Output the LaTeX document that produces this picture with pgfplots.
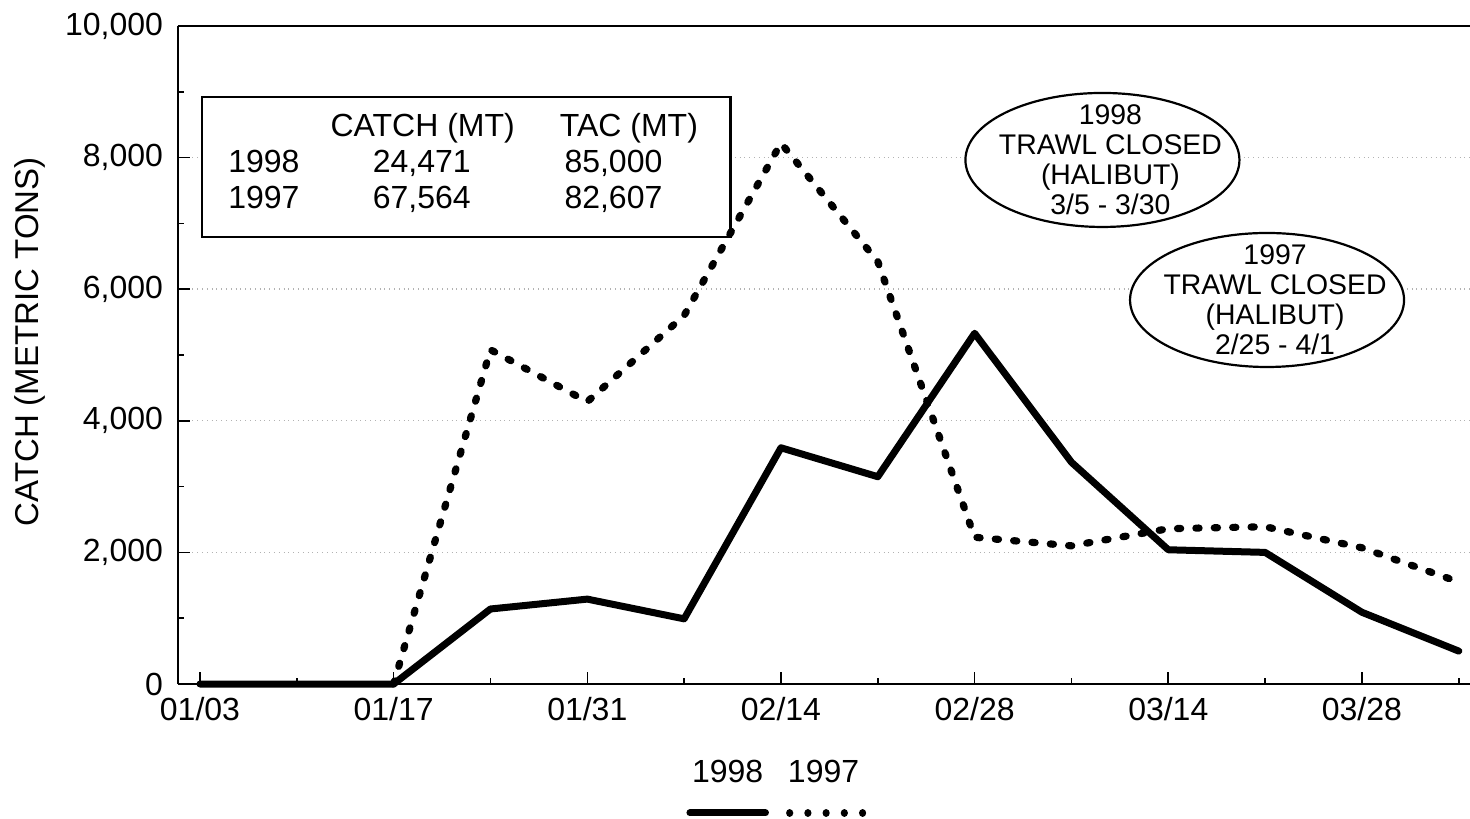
\documentclass[border=0pt]{standalone}
\usepackage{pgfplots}
\pgfplotsset{compat=1.18}
\usepackage{fontspec}
\setmainfont{Liberation Sans}
\begin{document}
\begin{tikzpicture}
\begin{axis}[
  name=ax,
  scale only axis,
  width=646pt, height=329pt,
  xmin=-0.227, xmax=13.116,
  ymin=0, ymax=10000,
  axis x line*=box, axis y line*=left,
  xtick pos=bottom, ytick pos=left,
  tick align=inside,
  major tick length=6pt, minor tick length=3pt,
  every tick/.style={black, line width=0.8pt},
  axis line style={line width=1.4pt},
  ytick={0,2000,...,10000}, minor ytick={1000,3000,...,9000},
  xtick={0,2,...,12},
  xticklabels={01/03,01/17,01/31,02/14,02/28,03/14,03/28},
  minor xtick={1,3,...,13},
  ymajorgrids,
  grid style={dotted, gray!60, line width=0.7pt},
  scaled y ticks=false,
  /pgf/number format/1000 sep={,},
  /pgf/number format/assume math mode=true,
  tick label style={font=\fontsize{16}{18}\selectfont},
  yticklabel style={xshift=-4pt},
  xticklabel style={yshift=-3pt},
  ylabel={CATCH (METRIC TONS)},
  ylabel style={font=\fontsize{16.5}{19}\selectfont, at={(axis description cs:-0.1146,0.52)}, anchor=center},
  clip=false,
]
% summary table box
\draw[line width=1.2pt, fill=white] (axis cs:0.02,6793) rectangle (axis cs:5.48,8921);
\begin{scope}[every node/.style={font=\fontsize{16}{18}\selectfont, anchor=base, inner sep=0pt}]
\node at (axis cs:2.30,8328) {CATCH (MT)};
\node at (axis cs:4.43,8328) {TAC (MT)};
\node at (axis cs:0.66,7766) {1998};
\node at (axis cs:2.29,7766) {24,471};
\node at (axis cs:4.27,7766) {85,000};
\node at (axis cs:0.66,7219) {1997};
\node at (axis cs:2.29,7219) {67,564};
\node at (axis cs:4.27,7219) {82,607};
\end{scope}
% closure ellipses
\draw[line width=1.1pt, fill=white] (axis cs:9.32,7964) ellipse [x radius=68.5pt, y radius=33.5pt];
\node[align=center, font=\fontsize{14.2}{15}\selectfont, xshift=4pt] at (axis cs:9.32,7964) {1998\\TRAWL CLOSED\\(HALIBUT)\\3/5 - 3/30};
\draw[line width=1.1pt, fill=white] (axis cs:11.02,5836) ellipse [x radius=68.5pt, y radius=33.5pt];
\node[align=center, font=\fontsize{14.2}{15}\selectfont, xshift=4pt] at (axis cs:11.02,5836) {1997\\TRAWL CLOSED\\(HALIBUT)\\2/25 - 4/1};
% data
\addplot[black, line width=3.6pt, line cap=round, dash pattern=on 1.6pt off 7.6pt]
  coordinates {(2,0)(3,5080)(4,4290)(5,5600)(6,8220)(7,6420)(8,2230)(9,2100)(10,2360)(11,2390)(12,2070)(13,1550)};
\addplot[black, line width=3.5pt, line join=round, line cap=round]
  coordinates {(0,0)(1,0)(2,0)(3,1140)(4,1290)(5,990)(6,3590)(7,3150)(8,5330)(9,3370)(10,2040)(11,2000)(12,1090)(13,500)};
% legend
\node[font=\fontsize{16}{18}\selectfont] at (axis cs:5.45,-1337) {1998};
\node[font=\fontsize{16}{18}\selectfont] at (axis cs:6.44,-1337) {1997};
\draw[black, line width=3.5pt, line cap=round] (axis cs:5.06,-1960) -- (axis cs:5.84,-1960);
\draw[black, line width=3.6pt, line cap=round, dash pattern=on 0.01pt off 9.1pt] (axis cs:6.09,-1960) -- (axis cs:6.86,-1960);
\end{axis}
\pgfresetboundingbox
\path[use as bounding box] ([xshift=-89pt,yshift=-67pt]ax.south west) rectangle ([yshift=13pt]ax.north east);
\end{tikzpicture}
\end{document}
